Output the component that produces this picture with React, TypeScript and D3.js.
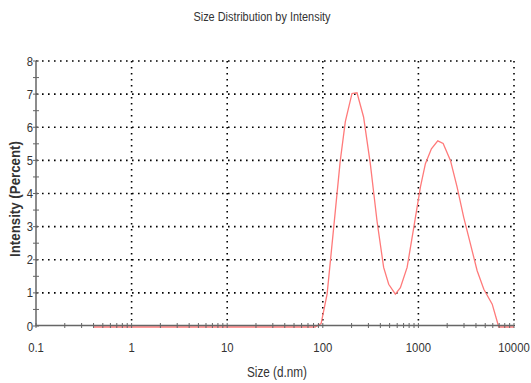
import React, { useEffect, useRef } from 'react';
import * as d3 from 'd3';

// size (d.nm) and intensity (%)
const sizes = [0.4, 83, 96, 111, 130, 152, 172, 202, 228, 267, 314, 369, 433, 489, 574, 648, 762, 894, 1049, 1184, 1368, 1594, 1815, 2163, 2541, 2979, 3505, 4117, 4834, 5916, 6928, 10000];
const intensity = [0, 0, 0.1, 1.0, 3.0, 5.0, 6.2, 7.05, 7.07, 6.34, 4.93, 3.2, 1.8, 1.29, 0.99, 1.19, 1.8, 3.0, 4.22, 4.93, 5.38, 5.62, 5.54, 5.03, 4.22, 3.31, 2.5, 1.7, 1.14, 0.69, 0, 0];
const xTicks = [0.1, 1, 10, 100, 1000, 10000];
const yTicks = [0, 1, 2, 3, 4, 5, 6, 7, 8];

const FONT = "'Liberation Sans', Arial, sans-serif";
const SQUEEZE = 0.84; // the original uses a narrow font

function App() {
  const svgRef = useRef<SVGSVGElement>(null);

  useEffect(() => {
    const svg = d3.select(svgRef.current);
    svg.selectAll('*').remove();

    const left = 36, right = 514, top = 61, bottom = 326;

    const x = d3.scaleLog().domain([0.1, 10000]).range([left, right]);
    const y = d3.scaleLinear().domain([0, 8]).range([bottom, top]);

    const label = (tx: number, ty: number, txt: string, anchor = 'middle', size = 13) =>
      svg.append('text')
        .attr('transform', `translate(${tx},${ty}) scale(${SQUEEZE},1)`)
        .attr('text-anchor', anchor)
        .style('font-family', FONT).style('font-size', size + 'px')
        .attr('fill', '#333')
        .text(txt);

    // dotted grid
    const grid = svg.append('g').attr('stroke', '#000').attr('stroke-width', 1.6)
      .attr('stroke-dasharray', '1.6,4.4');
    grid.selectAll('.hg').data(yTicks.slice(1)).enter().append('line')
      .attr('x1', left).attr('x2', right)
      .attr('y1', d => y(d)).attr('y2', d => y(d));
    grid.selectAll('.vg').data(xTicks.slice(1)).enter().append('line')
      .attr('x1', d => x(d)).attr('x2', d => x(d))
      .attr('y1', top).attr('y2', bottom);

    // distribution line (shifted 1px so the zero run shows under the axis)
    const lineGen = d3.line<number>()
      .x((d, i) => x(sizes[i]))
      .y(d => y(d));

    svg.append('path')
      .datum(intensity)
      .attr('d', lineGen)
      .attr('transform', 'translate(0,1)')
      .attr('fill', 'none')
      .attr('stroke', '#ff7a7a')
      .attr('stroke-width', 1.3);

    // axes
    const ax = svg.append('g').attr('stroke', '#666');
    ax.append('line').attr('x1', left).attr('x2', left).attr('y1', top).attr('y2', bottom)
      .attr('stroke-width', 1.5);
    ax.append('line').attr('x1', left).attr('x2', right).attr('y1', bottom - 0.5).attr('y2', bottom - 0.5)
      .attr('stroke-width', 1.6);

    // y ticks each 0.5
    const yMinor = d3.range(0, 8.01, 0.5);
    ax.selectAll('.yt').data(yMinor).enter().append('line')
      .attr('x1', left - 3).attr('x2', left + 3)
      .attr('y1', d => y(d)).attr('y2', d => y(d))
      .attr('stroke-width', 1);

    // x minor ticks
    const xMinor: number[] = [];
    for (let e = -1; e < 4; e++) {
      for (let m = 2; m <= 9; m++) xMinor.push(m * Math.pow(10, e));
    }
    ax.selectAll('.xt').data(xMinor.concat(xTicks)).enter().append('line')
      .attr('x1', d => x(d)).attr('x2', d => x(d))
      .attr('y1', bottom - 3).attr('y2', bottom + 2)
      .attr('stroke-width', 1);

    // tick labels
    yTicks.forEach(d => label(left - 3, y(d) + 4.5, String(d), 'end', 13.5));
    xTicks.forEach(d => label(x(d), 352, String(d), 'middle', 13.5));

    // titles
    label(262, 21, 'Size Distribution by Intensity');
    label(277, 377, 'Size (d.nm)', 'middle', 14);
    svg.append('text')
      .attr('transform', `translate(20,199) rotate(-90) scale(0.95,1)`)
      .attr('text-anchor', 'middle')
      .style('font-family', FONT).style('font-size', '14px').style('font-weight', 'bold')
      .attr('fill', '#333')
      .text('Intensity (Percent)');
  }, []);

  return (
    <svg ref={svgRef} width={531} height={383} style={{ position: 'absolute', left: 0, top: 0, background: '#fff' }}></svg>
  );
}

export default App;
